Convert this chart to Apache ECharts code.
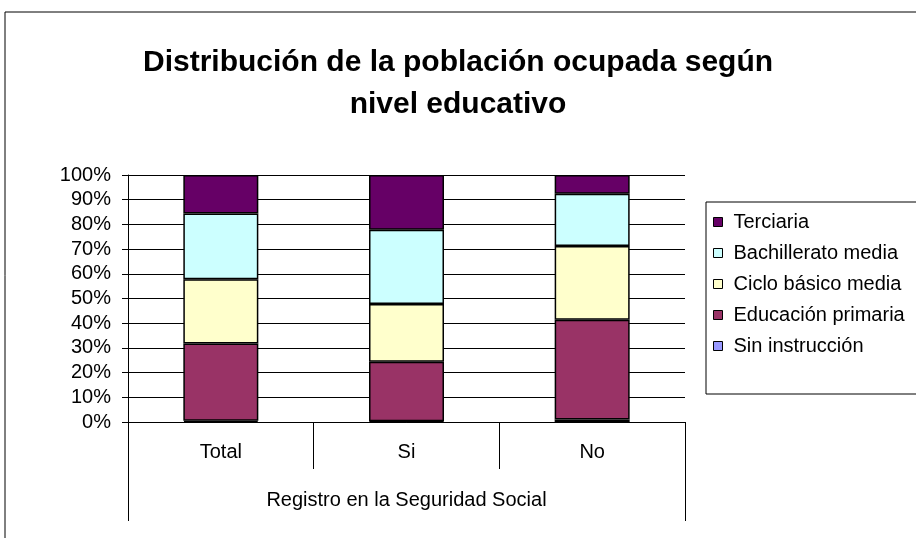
<!DOCTYPE html>
<html>
<head>
    <meta charset="utf-8">
    <title>Distribución de la población ocupada</title>
    <script src="https://cdn.jsdelivr.net/npm/echarts@6/dist/echarts.min.js"></script>
</head>
<body style="margin:0;background:#fff;">
<div id="main" style="width: 916px;height:538px;"></div>
<script type="text/javascript">

    /* datos ===================== */
    var categorias = ['Total', 'Si', 'No'];
    var grupo = ['Registro en la Seguridad Social'];
    var sinInstruccion = [0.5, 0.3, 1.0];
    var primaria = [31.3, 24.1, 40.4];
    var cicloBasico = [26.0, 23.4, 29.9];
    var bachillerato = [26.6, 30.0, 21.1];
    var terciaria = [15.6, 22.2, 7.6];
    var etiquetasY = ['0%', '10%', '20%', '30%', '40%', '50%', '60%', '70%', '80%', '90%', '100%'];

    var fuente = 'Liberation Sans, Arial, sans-serif';

    function serie(nombre, datos, color) {
        return {
            name: nombre,
            type: 'bar',
            stack: 'total',
            barWidth: 75,
            data: datos,
            itemStyle: {color: color, borderColor: '#000', borderWidth: 1.5}
        };
    }

    var myChart = echarts.init(document.getElementById('main'));

    myChart.setOption({
        animation: false,
        backgroundColor: '#fff',
        title: {
            text: 'Distribución de la población ocupada según\nnivel educativo',
            left: 'center',
            top: 37,
            textStyle: {
                fontFamily: fuente,
                fontSize: 30,
                fontWeight: 'bold',
                color: '#000',
                lineHeight: 42
            }
        },
        legend: {
            left: 713,
            top: 212,
            padding: 0,
            orient: 'vertical',
            itemWidth: 9,
            itemHeight: 9,
            itemGap: 11,
            icon: 'rect',
            data: ['Terciaria', 'Bachillerato media', 'Ciclo básico media', 'Educación primaria', 'Sin instrucción'],
            textStyle: {fontFamily: fuente, fontSize: 20, color: '#000', padding: [0, 0, 0, 6]},
            itemStyle: {borderColor: '#000', borderWidth: 1}
        },
        graphic: [
            {type: 'rect', shape: {x: 5, y: 12, width: 930, height: 560}, style: {fill: 'none', stroke: '#000', lineWidth: 1}, silent: true},
            {type: 'rect', shape: {x: 706, y: 202, width: 230, height: 192}, style: {fill: 'none', stroke: '#000', lineWidth: 1}, silent: true}
        ],
        grid: {left: 128, top: 175, width: 557, height: 247},
        xAxis: [
            {
                type: 'category',
                data: categorias,
                position: 'bottom',
                axisLine: {lineStyle: {color: '#000', width: 1}},
                axisTick: {show: true, interval: 0, length: 47, lineStyle: {color: '#000'}},
                axisLabel: {fontFamily: fuente, fontSize: 20, color: '#000', margin: 20}
            },
            {
                type: 'category',
                data: grupo,
                position: 'bottom',
                axisLine: {show: false},
                axisTick: {show: true, interval: 0, length: 99, lineStyle: {color: '#000'}},
                axisLabel: {fontFamily: fuente, fontSize: 20, color: '#000', margin: 68}
            }
        ],
        yAxis: {
            type: 'value',
            min: 0,
            max: 100,
            interval: 10,
            axisLine: {show: true, lineStyle: {color: '#000'}},
            axisTick: {show: true, length: 6, lineStyle: {color: '#000'}},
            axisLabel: {
                fontFamily: fuente, fontSize: 20, color: '#000', margin: 17,
                formatter: function (v) { return etiquetasY[Math.round(v / 10)]; }
            },
            splitLine: {show: true, lineStyle: {color: '#000', width: 1}}
        },
        series: [
            serie('Sin instrucción', sinInstruccion, '#9999FF'),
            serie('Educación primaria', primaria, '#993366'),
            serie('Ciclo básico media', cicloBasico, '#FFFFCC'),
            serie('Bachillerato media', bachillerato, '#CCFFFF'),
            serie('Terciaria', terciaria, '#660066')
        ]
    });

</script>
</body>
</html>
